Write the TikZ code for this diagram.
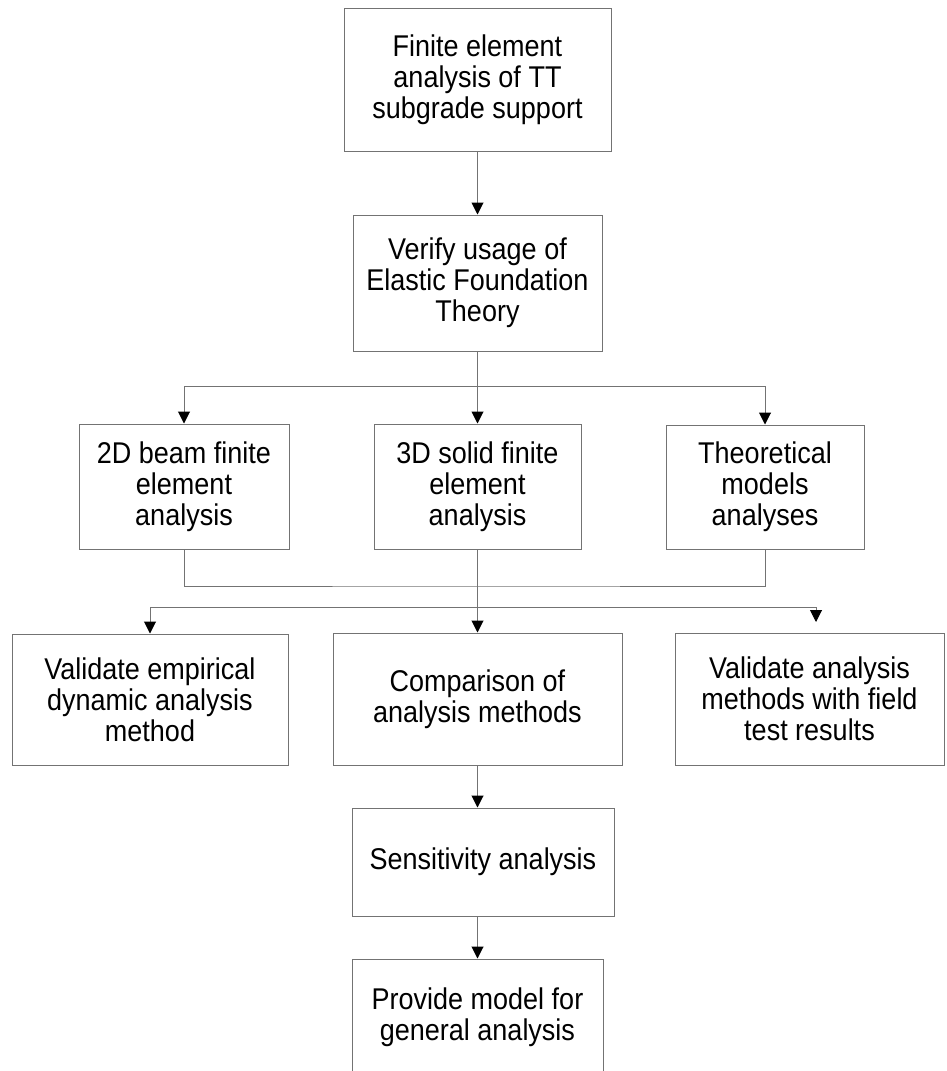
\documentclass[tikz,border=0pt]{standalone}
\usepackage{fontspec}
\setmainfont[FakeStretch=0.9]{Liberation Sans}
\usetikzlibrary{arrows.meta}

\begin{document}
\begin{tikzpicture}[
            x=1pt, y=-1pt,
            box/.style={draw=black!55, line width=1pt, align=center, inner sep=0pt,
                font=\fontsize{30}{31}\selectfont},
            link/.style={draw=black!55, line width=1pt},
            arrow/.style={link, -{Triangle[width=12pt,length=12pt,color=black]}}
            ]
            \useasboundingbox (0,0) rectangle (946,1071);
            \node[box, minimum width=267pt, minimum height=143pt] (fea) at (477.5, 79.5) {Finite element\\analysis of TT\\subgrade support};
            \node[box, minimum width=249pt, minimum height=136pt] (verify) at (477.5, 283) {Verify usage of\\Elastic Foundation\\Theory};
            \node[box, minimum width=210pt, minimum height=125pt] (beam) at (184, 486.5) {2D beam finite\\element\\analysis};
            \node[box, minimum width=207pt, minimum height=125pt] (solid) at (477.5, 486.5) {3D solid finite\\element\\analysis};
            \node[box, minimum width=198pt, minimum height=124pt] (theory) at (765, 487) {Theoretical\\models\\analyses};
            \node[box, minimum width=276pt, minimum height=131pt] (empirical) at (150, 699.5) {Validate empirical\\dynamic analysis\\method};
            \node[box, minimum width=289pt, minimum height=132pt] (compare) at (477.5, 699) {Comparison of\\analysis methods};
            \node[box, minimum width=269pt, minimum height=132pt] (field) at (809.5, 699) {Validate analysis\\methods with field\\test results};
            \node[box, minimum width=262pt, minimum height=108pt] (sens) at (483, 862) {Sensitivity analysis};
            \node[box, minimum width=251pt, minimum height=116pt] (model) at (477.5, 1017) {Provide model for\\general analysis};
            % branch points
            \coordinate (split1) at (477.5, 386);
            \coordinate (join) at (477.5, 586);
            \coordinate (split2) at (477.5, 607);
            \coordinate (fieldin) at (816, 622);
            \draw[arrow] (fea) -- (verify);
            \draw[link] (verify) -- (split1);
            \draw[arrow] (split1) -| (beam);
            \draw[arrow] (split1) -- (solid);
            \draw[arrow] (split1) -| (theory);
            \draw[link] (beam) |- (join) -| (theory);
            \draw[arrow] (solid) -- (compare);
            \draw[arrow] (split2) -| (empirical);
            \draw[arrow] (split2) -| (fieldin);
            \draw[arrow] (compare.south) -- (compare.south |- sens.north);
            \draw[arrow] (sens.south -| model) -- (model);
        \end{tikzpicture}
\end{document}
